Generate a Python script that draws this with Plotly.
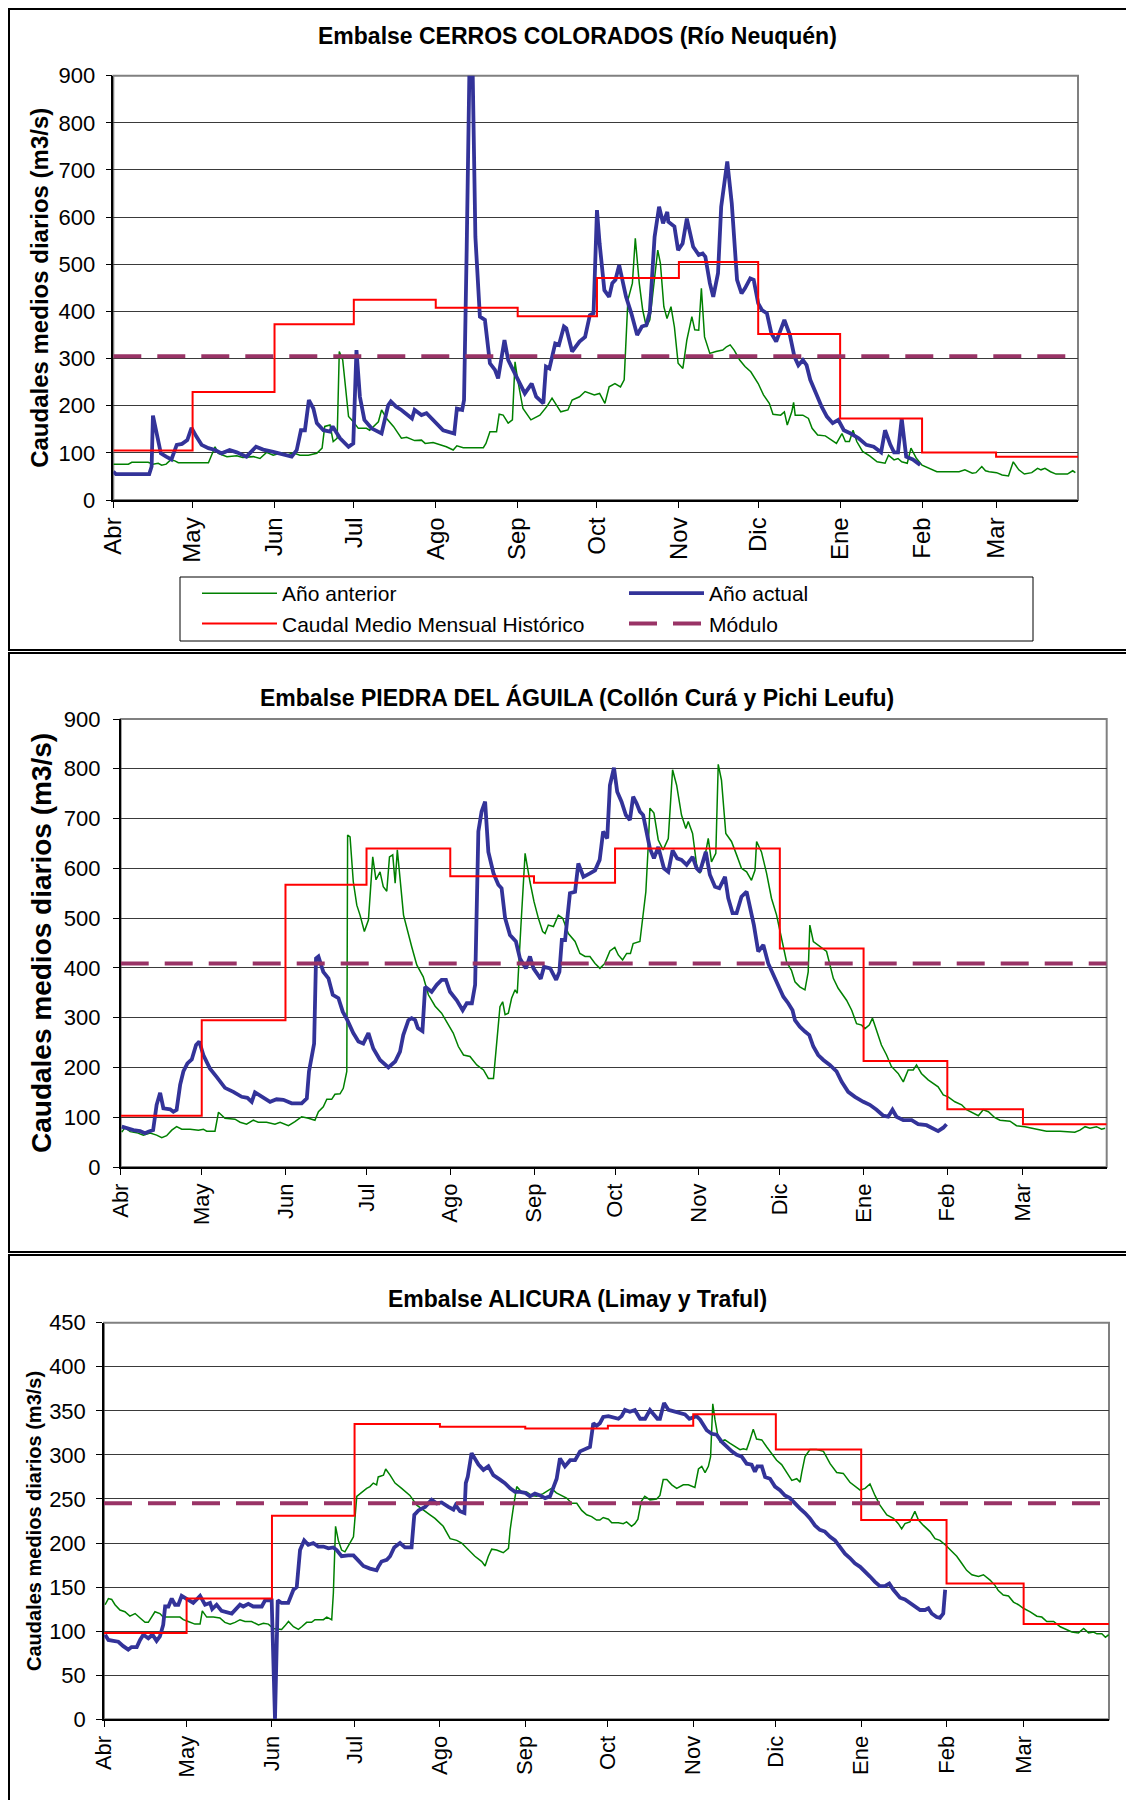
import plotly.graph_objects as go

# the page puts the figure 8px in from the top-left corner
OFF = 8
W, H = 1134 - OFF, 1800 - OFF

months = ["Abr", "May", "Jun", "Jul", "Ago", "Sep", "Oct", "Nov", "Dic", "Ene", "Feb", "Mar"]
month_start = [0, 30, 61, 91, 122, 153, 183, 214, 244, 275, 306, 334]
year_end = 365

# --- Embalse CERROS COLORADOS (Rio Neuquen) ---
cc_actual_day = [0, 1, 13.6, 14.5, 15, 18, 20, 22, 24, 26, 28, 29.6, 31.5, 33.4, 36, 38.5, 41, 44, 46.7, 50.4,
                 54, 56.7, 60.5, 65.6, 67.5, 69.4, 71, 72.5, 74, 75.7, 77, 79.5, 82, 83, 85.8, 89, 90.8, 92, 93.3, 95,
                 97.7, 101.5, 104, 105, 107, 109, 113, 114, 116.6, 118.5, 121, 124.8, 129, 130, 132, 132.7, 133.7,
                 134.7, 136, 137, 138.7, 140.6, 142.5, 144.4, 145.6, 148, 149.4, 151.3, 153.6, 155.7, 158.3, 160,
                 162.7, 163.7, 165, 167.2, 168.6, 170.5, 171.4, 173.6, 176.4, 178.5, 180.3, 181.7, 183, 184, 185.8,
                 187.6, 188.8, 190, 191.4, 192.6, 194, 196, 198.2, 200, 201.7, 203, 204.8, 206.5, 208, 209.6, 210,
                 212.3, 213.7, 215.4, 217, 219.4, 221.5, 223, 224, 225.7, 227, 228.8, 230, 232.3, 234, 236, 237.7,
                 239, 241, 242.3, 244, 245.4, 247.3, 249, 250.8, 252.5, 253.9, 256, 257.7, 259.2, 260.9, 262.3,
                 263.7, 265.9, 268, 270, 272.2, 274.3, 276.4, 279, 282, 284.9, 287.7, 290.5, 292, 294, 295.4, 296.9,
                 298.3, 300, 302.5, 305.3]
cc_actual_q = [60, 55, 55, 71, 179, 99, 92, 86, 117, 119, 127, 153, 134, 117, 110, 106, 99, 106, 101, 92,
               113, 107, 102, 95, 92, 106, 148, 148, 212, 194, 163, 148, 145, 156, 131, 113, 120, 318, 219, 170,
               152, 141, 201, 209, 198, 191, 173, 191, 180, 184, 170, 148, 141, 194, 191, 212, 530,
               898, 898, 558, 389, 382, 290, 276, 258, 339, 297, 276, 247, 226, 247, 219,
               205, 283, 279, 332, 329, 368, 364, 315, 336, 346, 392, 396, 615, 544, 445,
               431, 460, 467, 498, 467, 431, 396, 350, 368, 371, 399, 558, 622, 587, 611, 590,
               580, 530, 544, 597, 537, 520, 523, 516, 460, 431, 481, 622, 718, 629, 467, 438,
               449, 470, 467, 417, 403, 396, 353, 336, 361, 382, 350, 304, 286, 297, 286,
               255, 226, 198, 177, 163, 170, 148, 141, 131, 117, 113, 101, 148, 117, 101, 101,
               173, 92, 86, 74]
cc_prev_day = [0, 5.7, 7, 13.2, 15, 17, 18.3, 20, 21.7, 23.3, 24.6, 36, 38.5, 39.7, 43, 46.7, 49, 53, 55.5, 58,
               60.5, 63.7, 65.6, 68, 70.6, 73.8, 77, 79, 80, 82, 83.2, 84.7, 85.5, 86.8, 89, 90.8, 92.7, 95.8, 97,
               99, 100.3, 101.5, 103.4, 106, 109, 111, 114, 116.6, 118, 121, 123.6, 126, 128.6, 130, 132.4, 140,
               141, 142.5, 145, 146, 147.5, 149.4, 151, 152, 153, 155, 158, 161.4, 164, 166, 169.3, 172, 173.6,
               176.4, 178.5, 182, 184, 186, 187.6, 189.8, 191.9, 193.3, 194.7, 196.4, 197.5, 199, 200.3, 201.7,
               203, 204.6, 206, 207, 208.3, 209.5, 211, 212.3, 213.7, 215.5, 217, 218.9, 220, 221.5, 222.5, 223.7,
               225.7, 228, 230.6, 232, 233.4, 234.9, 237, 239, 241.2, 244, 246, 248.2, 249.6, 252.5, 253.9, 255,
               256.7, 257.4, 258, 260.9, 263, 264.4, 266.5, 269.4, 272.2, 273.6, 275.7, 277, 278.5, 279.9, 281.3,
               283.5, 286.3, 289, 292, 293.3, 295.4, 296.9, 298.3, 300.4, 301.8, 303.9, 306, 308.8, 311.6, 320,
               322.2, 325, 326.4, 328.6, 330, 331.4, 334.2, 336.3, 338.7, 340.5, 342.6, 344.7, 347.5, 349.7, 351,
               352.5, 354.6, 356.7, 361, 363, 364]
cc_prev_q = [76, 76, 80, 80, 76, 78, 74, 76, 85, 83, 79, 79, 113, 99, 92, 94, 90, 92, 88, 101,
             95, 100, 95, 100, 95, 95, 99, 110, 156, 159, 124, 131, 315, 297, 177, 166, 152, 152, 148,
             159, 166, 191, 173, 156, 131, 133, 126, 127, 120, 122, 117, 113, 106, 115, 111, 111,
             120, 145, 145, 182, 180, 163, 170, 293, 255, 194, 170, 180, 198, 216, 187, 191, 212,
             219, 230, 223, 226, 205, 240, 247, 240, 255, 424, 460, 555, 460, 403, 367,
             382, 460, 530, 502, 410, 385, 410, 367, 290, 279, 339, 389, 361, 360, 449, 346,
             311, 315, 318, 325, 329, 318, 297, 283, 272, 247, 223, 205, 182, 180, 187, 159,
             187, 207, 180, 180, 173, 152, 138, 136, 124, 120, 141, 124, 124, 148, 124,
             103, 93, 81, 78, 95, 85, 88, 81, 78, 110, 88, 74, 67, 60, 60,
             64, 57, 58, 71, 62, 60, 58, 53, 51, 81, 64, 55, 58, 67, 64,
             67, 60, 55, 55, 62, 58]
cc_hist = [105, 229, 373, 425, 408, 390, 471, 505, 352, 173, 101, 92]
cc_modulo = 305

# --- Embalse PIEDRA DEL AGUILA ---
pa_actual_day = [0.4, 2.2, 4.7, 7.2, 9, 10.2, 12, 13.3, 14.6, 15.8, 18.3, 19.5, 20.7, 22, 23.2, 24.7, 26.3, 27.9,
                 29.1, 30.6, 33, 35.5, 38.6, 41.7, 44.8, 46.9, 48.5, 49.7, 52.2, 55.3, 57.7, 60.2, 63.3, 67, 68.9,
                 69.7, 71.6, 72.3, 73.2, 75, 76.9, 78.5, 80.6, 82.2, 83.9, 86.1, 88, 89.8, 91.7, 93.5, 96, 99.1,
                 101.6, 103.4, 104.6, 106.5, 107.7, 109, 110, 111.7, 112.7, 115.1, 117, 118.8, 120.4, 121.9, 124.4,
                 126.6, 128.1, 130, 131.2, 132.4, 133.6, 134.9, 136.1, 138, 139.8, 141, 142.3, 144.1, 146.3, 147.8,
                 150, 151.5, 152.8, 154, 155.5, 156.7, 159, 161.2, 162.4, 163.3, 164.5, 166.3, 168.2, 169.4, 171.3,
                 173.7, 175.6, 177.3, 178.6, 180.1, 181.1, 182.6, 183.8, 185.4, 187, 188.5, 189.7, 191, 192.2,
                 193.4, 194.7, 195.9, 197.4, 199, 201.1, 202.7, 204.3, 206, 207.6, 209.5, 211.7, 213.2, 214.4,
                 216.6, 218.1, 220, 221.6, 223.7, 224.9, 226.5, 228, 229.8, 231.7, 232.9, 234.4, 236, 237.9, 239.7,
                 241.6, 243.4, 245.3, 247.1, 248.7, 249.6, 251.4, 253.3, 254.9, 256.4, 258.2, 260.1, 262.5, 265,
                 266.9, 269.3, 271.8, 274.9, 277.3, 279.8, 282.3, 284.1, 285.7, 287.2, 289.7, 292.8, 295.2, 298.3,
                 300.8, 302.6, 304.5, 305.7]
pa_actual_q = [81, 78, 74, 72, 68, 71, 74, 125, 149, 118, 116, 111, 115, 165, 192, 208, 216, 245,
               252, 225, 198, 181, 159, 151, 141, 139, 131, 150, 141, 131, 136, 135, 128, 128, 138,
               192, 248, 419, 423, 392, 379, 346, 339, 312, 295, 269, 252, 248, 269, 238, 215, 200,
               212, 232, 265, 295, 299, 295, 279, 273, 362, 352, 366, 376, 376, 352, 335,
               315, 329, 329, 366, 674, 714, 734, 633, 590, 567, 560, 500, 466, 453, 419,
               399, 423, 399, 389, 378, 402, 399, 376, 392, 456, 456, 550, 553, 610, 583,
               590, 596, 617, 674, 660, 767, 802, 754, 734, 707, 697, 744, 730, 714,
               707, 674, 640, 620, 643, 600, 593, 636, 620, 617, 607, 623, 600, 593,
               633, 587, 563, 560, 583, 540, 510, 510, 543, 553, 526, 486, 433, 446, 409,
               386, 366, 342, 329, 315, 295, 282, 272, 265, 242, 225, 215, 205, 192,
               171, 151, 141, 131, 125, 115, 103, 101, 115, 101, 94, 94, 86, 84,
               76, 72, 79, 86]
pa_prev_day = [0.4, 1.6, 3.5, 5.9, 8.4, 10.9, 13.3, 15.2, 17, 18.9, 20.7, 22.6, 25.7, 28.8, 30.6, 31.8, 34.9, 36.2,
               38.6, 42.3, 44.2, 46.6, 49.1, 50.9, 54, 57.1, 59, 62.1, 64.5, 67, 69.5, 71.9, 73.2, 75, 76.3, 78.1,
               79.3, 81.2, 82.4, 83.7, 84, 84.9, 86.1, 87.4, 88.6, 90.2, 91.7, 92.5, 93.3, 94.5, 96, 97.2, 98.5,
               99.5, 100.7, 101.6, 102.4, 104.7, 106.5, 107.7, 109.6, 112, 113.9, 116.4, 118.8, 120.7, 123.1, 125,
               126.9, 129.3, 131.8, 134.3, 136.1, 138, 139.2, 140.4, 141.4, 142.3, 143.5, 144.7, 146, 146.8, 148.1,
               149.7, 151.5, 153, 154.6, 156.2, 157.1, 158.3, 160.2, 162, 163.6, 165.7, 168.2, 170, 171.9, 173.7,
               175.6, 177.4, 179.2, 181.1, 182.9, 184.2, 185.8, 187.3, 188.7, 189.7, 192.2, 193.4, 194.4, 195.3,
               195.9, 197.4, 199, 200.8, 202.7, 204.3, 205.8, 207.6, 209.2, 210.1, 211.7, 213.2, 214.4, 215.9,
               217.5, 218.7, 220.3, 221.2, 222.4, 224, 226.1, 228, 229.8, 231.7, 233.5, 234.8, 235.4, 237.2, 239.1,
               240.9, 242.8, 244.6, 246.5, 248.3, 249.6, 251.4, 253.3, 254.5, 255.1, 256.4, 258.2, 261.3, 263.8,
               265.6, 268.7, 270.6, 272.4, 274.3, 275.5, 277.1, 278.3, 279.8, 281.6, 283.5, 285.3, 287.8, 289.7,
               291.5, 293.4, 294.6, 296.4, 298.9, 301.4, 302.6, 304.5, 306.3, 308.8, 311.3, 313.1, 315.6, 317.5,
               319.3, 321.2, 323.6, 325.5, 329.2, 331.6, 334.7, 337.8, 342.7, 347.7, 353.2, 355.1, 357, 358.8,
               361.2, 363.1, 364.4]
pa_prev_q = [70, 79, 71, 69, 64, 68, 64, 59, 63, 74, 81, 76, 76, 74, 76, 72, 72, 110,
             98, 96, 90, 86, 94, 90, 90, 86, 90, 83, 91, 101, 98, 94, 111, 121, 136, 136,
             146, 147, 158, 192, 667, 663, 573, 526, 506, 473, 496, 567, 623, 577, 593, 563, 554,
             623, 627, 570, 637, 506, 466, 443, 406, 382, 346, 323, 309, 292, 269, 242,
             225, 222, 205, 195, 178, 178, 258, 322, 332, 306, 309, 339, 356, 349, 479,
             630, 573, 533, 500, 473, 469, 486, 483, 506, 500, 469, 453, 429, 423, 423,
             409, 399, 409, 434, 441, 426, 416, 429, 429, 449, 453, 513, 553, 647,
             721, 711, 657, 637, 660, 798, 767, 707, 680, 694, 670, 607, 590, 613,
             660, 613, 630, 809, 777, 670, 654, 627, 600, 593, 576, 596, 654, 633, 590,
             540, 506, 460, 412, 395, 372, 362, 356, 392, 486, 453, 446, 433, 379,
             359, 335, 315, 288, 285, 278, 285, 299, 275, 245, 225, 202, 188, 171,
             195, 195, 205, 188, 175, 165, 161, 145, 141, 131, 125, 115, 108, 103,
             115, 111, 99, 94, 92, 83, 81, 78, 72, 72, 70, 74, 81, 78,
             81, 76, 78]
pa_hist = [103, 295, 567, 640, 584, 571, 640, 640, 439, 213, 116, 86]
pa_modulo = 409

# --- Embalse ALICURA ---
al_actual_day = [0.4, 1.6, 3.4, 5.2, 7, 8.8, 10, 11.9, 13.1, 14.3, 16.1, 17.6, 19.1, 20.3, 21.5, 22.2, 23.4, 24.6,
                 25.8, 27, 28.2, 30.6, 32.4, 34.9, 36.7, 38.5, 39.3, 40.9, 42.7, 46.4, 47.6, 49.4, 50.6, 52.4, 54.2,
                 57.3, 58.5, 60.9, 62.1, 63.1, 64.5, 66.9, 68.8, 70, 71.2, 72.7, 74.2, 76, 77.8, 79.7, 81.5, 83.3,
                 84.5, 86.3, 88.7, 90.6, 92.4, 94.2, 96.6, 99, 99.6, 100.8, 102.7, 103.9, 105.4, 107.5, 109.3, 111.7,
                 112.7, 114.2, 116.6, 119, 120.8, 122.6, 125.1, 126.9, 127.7, 129.3, 130.9, 131.4, 132.1, 133.5, 136,
                 137.8, 139.6, 141.4, 143.8, 145.6, 147.5, 149.3, 151.1, 152.9, 154.7, 156.5, 158.4, 160.2, 162,
                 163.2, 164.4, 165.6, 167.4, 169.3, 171.1, 172.9, 174.7, 176.5, 177.7, 178.9, 180.1, 181.3, 183.2,
                 185, 186.8, 188, 189.2, 191, 192.8, 194.7, 196.5, 198.3, 199.5, 201, 201.9, 203.4, 205, 206.2,
                 207.4, 209.2, 211, 212.6, 214, 215.2, 216.5, 218.9, 220.7, 222.5, 224.3, 226.1, 228, 229.8, 231.6,
                 233.4, 235.2, 236.4, 237.3, 238.9, 240.1, 241.9, 243.7, 245.5, 247.3, 249.1, 251, 252.8, 254.6,
                 256.4, 258.2, 260, 261.8, 263.7, 265.5, 267.3, 269.1, 270.9, 272.7, 274.6, 276.4, 278.2, 280,
                 281.8, 283.6, 285.2, 286.7, 289.1, 290.9, 292.7, 294.5, 296.4, 298.2, 299.4, 300.6, 302.4, 303.6,
                 304.8, 305.5]
al_actual_q = [96, 90, 89, 88, 83, 79, 82, 82, 90, 96, 92, 96, 89, 94, 107, 128, 128, 137,
               130, 130, 140, 135, 132, 140, 130, 132, 125, 130, 123, 120, 124, 130, 128, 131, 128,
               128, 135, 135, 0, 135, 132, 132, 147, 150, 192, 203, 198, 200, 196, 196, 194, 195,
               192, 185, 186, 186, 180, 174, 171, 169, 173, 179, 181, 185, 195, 200, 195, 195,
               232, 237, 241, 249, 245, 246, 241, 238, 243, 236, 234, 268, 275, 302, 289,
               283, 287, 277, 272, 268, 262, 258, 258, 257, 253, 256, 254, 251, 253,
               262, 273, 296, 287, 294, 294, 304, 306, 309, 336, 333, 336, 343, 344,
               343, 341, 344, 351, 349, 351, 341, 341, 351, 347, 341, 341, 359, 351, 350,
               349, 347, 346, 341, 343, 344, 340, 328, 324, 323, 315, 309, 304, 300, 298,
               290, 289, 281, 287, 287, 275, 273, 264, 260, 254, 251, 244, 239, 234,
               228, 220, 215, 213, 207, 203, 196, 188, 183, 177, 173, 168, 162, 156,
               151, 151, 154, 147, 138, 136, 132, 128, 124, 124, 126, 120, 116, 115,
               120, 147]
al_prev_day = [0.4, 1.6, 2.8, 4, 5.8, 7.6, 9.4, 11.3, 13.1, 14.9, 16.1, 17.3, 18.5, 20.3, 21.5, 27.6, 28.8, 30.6,
               33, 34.9, 35.7, 37.3, 39.7, 42.1, 43.9, 45.8, 47.6, 49.4, 51.2, 53.6, 56.1, 57.9, 59.7, 61.5, 64.5,
               65.7, 67, 68.8, 70.6, 71.8, 73.6, 75.4, 76.6, 79.7, 80.9, 82.7, 83.3, 84.1, 85.1, 86.3, 87.5, 89.3,
               90.6, 91.8, 93.6, 95.4, 96.6, 97.8, 99, 99.6, 101.5, 102.3, 103.9, 105.7, 108.1, 111.1, 113.6, 116,
               118.4, 120.2, 123.2, 125.7, 128.1, 129.9, 132.3, 134.7, 137.2, 138.4, 139.6, 140.8, 142.6, 145,
               146.9, 147.5, 148.7, 149.9, 151.7, 153.5, 155.3, 157.1, 159.5, 161.3, 162.5, 164.3, 166.2, 168,
               169.9, 171.7, 173.5, 175.3, 177.1, 178.9, 180.1, 181.3, 183.2, 184.4, 186.8, 188.6, 189.8, 191.6,
               192.8, 193.9, 195.1, 196.4, 198.3, 200.7, 201.9, 203.1, 204.4, 206.2, 208, 210.4, 212.2, 214.6,
               215.9, 217.1, 218.3, 219.5, 220.3, 221.1, 221.9, 222.8, 223.7, 225.5, 227.4, 229.2, 231, 232.2,
               233.4, 234.6, 235.8, 237, 238.9, 240.7, 242.5, 244.3, 246.1, 248, 249.8, 251.6, 252.8, 253.4,
               254.6, 256.4, 258.8, 261.3, 263.7, 266.1, 268.5, 270.9, 272.8, 274.6, 276.4, 278.2, 280, 281.8,
               284.3, 286.7, 288.5, 289.7, 290.9, 292.7, 294.5, 295.8, 297.6, 300, 301.8, 303.6, 305.5, 307.3,
               309.7, 311.5, 313.3, 315.2, 317.6, 319.4, 321.8, 323.6, 324.8, 326.6, 328.5, 330.3, 332.1, 333.9,
               336.4, 338.8, 340.6, 342.4, 344.9, 347.3, 349.7, 351.5, 353.9, 355.8, 357.6, 359.4, 360.6, 362.4,
               363.7, 364.9]
al_prev_q = [130, 137, 136, 130, 124, 122, 117, 120, 115, 110, 110, 116, 122, 120, 116, 116, 113, 111,
             108, 108, 123, 116, 116, 115, 110, 108, 110, 113, 111, 111, 107, 109, 108, 103, 102,
             106, 111, 105, 102, 105, 110, 110, 113, 113, 116, 113, 143, 219, 203, 192, 190, 200,
             207, 253, 258, 262, 264, 268, 266, 275, 277, 284, 277, 268, 262, 254, 243, 237,
             232, 228, 219, 205, 203, 200, 192, 185, 179, 174, 185, 193, 192, 189,
             194, 215, 241, 264, 258, 258, 254, 253, 256, 260, 262, 257, 254, 251,
             245, 245, 237, 232, 230, 226, 226, 229, 227, 223, 223, 222, 224, 219,
             222, 227, 247, 253, 249, 250, 254, 272, 272, 266, 262, 266, 266, 263,
             284, 287, 280, 287, 298, 358, 340, 324, 315, 317, 313, 309, 306, 307,
             306, 317, 329, 318, 317, 309, 302, 294, 289, 280, 271, 273, 269, 280,
             298, 306, 306, 304, 290, 280, 279, 269, 264, 260, 262, 267, 254, 243,
             232, 228, 222, 216, 222, 224, 236, 226, 220, 213, 205, 203, 198, 192,
             185, 177, 169, 164, 162, 164, 158, 152, 146, 141, 140, 133, 130, 126,
             122, 117, 116, 111, 111, 105, 102, 99, 98, 103, 98, 99, 97, 97,
             93, 96]
al_hist = [98, 137, 231, 335, 332, 330, 333, 346, 306, 226, 154, 108]
al_modulo = 245

titles = ["Embalse CERROS COLORADOS (Río Neuquén)",
          "Embalse PIEDRA DEL ÁGUILA (Collón Curá y Pichi Leufu)",
          "Embalse ALICURA (Limay y Traful)"]
y_title = "Caudales medios diarios (m3/s)"
names = ["Año anterior", "Año actual", "Caudal Medio Mensual Histórico", "Módulo"]

FONT = "Liberation Sans, Arial, sans-serif"


# page pixel -> paper fraction
def px(x):
    return (x - OFF) / W


def py(y):
    return 1 - (y - OFF) / H


fig = go.Figure()

# plot box (left, right, top, bottom) and frame (top, bottom) in page pixels
panels = [
    dict(prev=(cc_prev_day, cc_prev_q), act=(cc_actual_day, cc_actual_q), hist=cc_hist, mod=cc_modulo,
         ymax=900, dtick=100, box=(113.3, 1078, 75.7, 500), frame=(9, 650), ty=36, ytx=40, ytsize=24,
         mfs=24, stand=6),
    dict(prev=(pa_prev_day, pa_prev_q), act=(pa_actual_day, pa_actual_q), hist=pa_hist, mod=pa_modulo,
         ymax=900, dtick=100, box=(120.7, 1106.7, 719, 1167), frame=(653, 1252), ty=697, ytx=41, ytsize=28,
         mfs=22, stand=8),
    dict(prev=(al_prev_day, al_prev_q), act=(al_actual_day, al_actual_q), hist=al_hist, mod=al_modulo,
         ymax=450, dtick=50, box=(104, 1109, 1322.7, 1719.3), frame=(1255, 1806), ty=1299, ytx=34, ytsize=20,
         mfs=22, stand=6),
]

annotations = []
shapes = []
for i, p in enumerate(panels):
    n = "" if i == 0 else str(i + 1)
    xa, ya = "x" + n, "y" + n
    show = i == 0
    fig.add_trace(go.Scatter(x=p["prev"][0], y=p["prev"][1], name=names[0], mode="lines",
                             line=dict(color="#008000", width=1.5), xaxis=xa, yaxis=ya, showlegend=show))
    fig.add_trace(go.Scatter(x=p["act"][0], y=p["act"][1], name=names[1], mode="lines",
                             line=dict(color="#333399", width=3.8), xaxis=xa, yaxis=ya, showlegend=show))
    fig.add_trace(go.Scatter(x=month_start + [year_end], y=p["hist"] + [p["hist"][-1]], name=names[2],
                             mode="lines", line=dict(color="#FF0000", width=2, shape="hv"),
                             xaxis=xa, yaxis=ya, showlegend=show))
    fig.add_trace(go.Scatter(x=[0, year_end], y=[p["mod"], p["mod"]], name=names[3], mode="lines",
                             line=dict(color="#993366", width=4, dash="28px,16px"),
                             xaxis=xa, yaxis=ya, showlegend=show))

    l, r, t, b = p["box"]
    fig.update_layout({
        "xaxis" + n: dict(domain=[px(l), px(r)], anchor=ya, range=[0, year_end], automargin=False,
                          tickmode="array", tickvals=month_start, ticktext=months, tickangle=-90,
                          ticks="outside", ticklen=6, tickcolor="black", showgrid=False, zeroline=False,
                          showline=True, linecolor="black", linewidth=1.5,
                          tickfont=dict(family=FONT, size=p["mfs"], color="black")),
        "yaxis" + n: dict(domain=[py(b), py(t)], anchor=xa, range=[0, p["ymax"]], dtick=p["dtick"],
                          automargin=False, ticks="outside", ticklen=6, tickcolor="black", showgrid=True,
                          gridcolor="#3a3a3a", gridwidth=1, zeroline=False, ticklabelstandoff=p["stand"],
                          showline=True, linecolor="black", linewidth=1.5,
                          tickfont=dict(family=FONT, size=22, color="black")),
    })
    # plot area border (top/right grey like the original)
    shapes.append(dict(type="rect", xref=xa + " domain", yref=ya + " domain", x0=0, x1=1, y0=0, y1=1,
                       line=dict(color="#808080", width=2), layer="below"))
    # chart frame
    f0, f1 = p["frame"]
    shapes.append(dict(type="rect", xref="paper", yref="paper", x0=px(9), x1=px(1140), y0=py(f1), y1=py(f0),
                       line=dict(color="black", width=2)))
    annotations.append(dict(text="<b>" + titles[i] + "</b>", x=px(577), y=py(p["ty"]), xref="paper", yref="paper",
                            showarrow=False, xanchor="center", yanchor="middle",
                            font=dict(family=FONT, size=23, color="black")))
    annotations.append(dict(text="<b>" + y_title + "</b>", x=px(p["ytx"]), y=py((t + b) / 2),
                            xref="paper", yref="paper", showarrow=False, textangle=-90,
                            xanchor="center", yanchor="middle",
                            font=dict(family=FONT, size=p["ytsize"], color="black")))

# legend box of the first chart
shapes.append(dict(type="rect", xref="paper", yref="paper", x0=px(180), x1=px(1033), y0=py(641), y1=py(577),
                   line=dict(color="black", width=1)))

fig.update_layout(
    width=W, height=H,
    margin=dict(l=0, r=0, t=0, b=0, pad=0, autoexpand=False),
    paper_bgcolor="white", plot_bgcolor="white",
    showlegend=True,
    legend=dict(orientation="h", x=px(197), y=py(573), xanchor="left", yanchor="top",
                entrywidth=337, entrywidthmode="pixels", itemwidth=75,
                borderwidth=0, bgcolor="rgba(0,0,0,0)",
                font=dict(family=FONT, size=21, color="black")),
    annotations=annotations,
    shapes=shapes,
)

fig.write_html("out.html")
